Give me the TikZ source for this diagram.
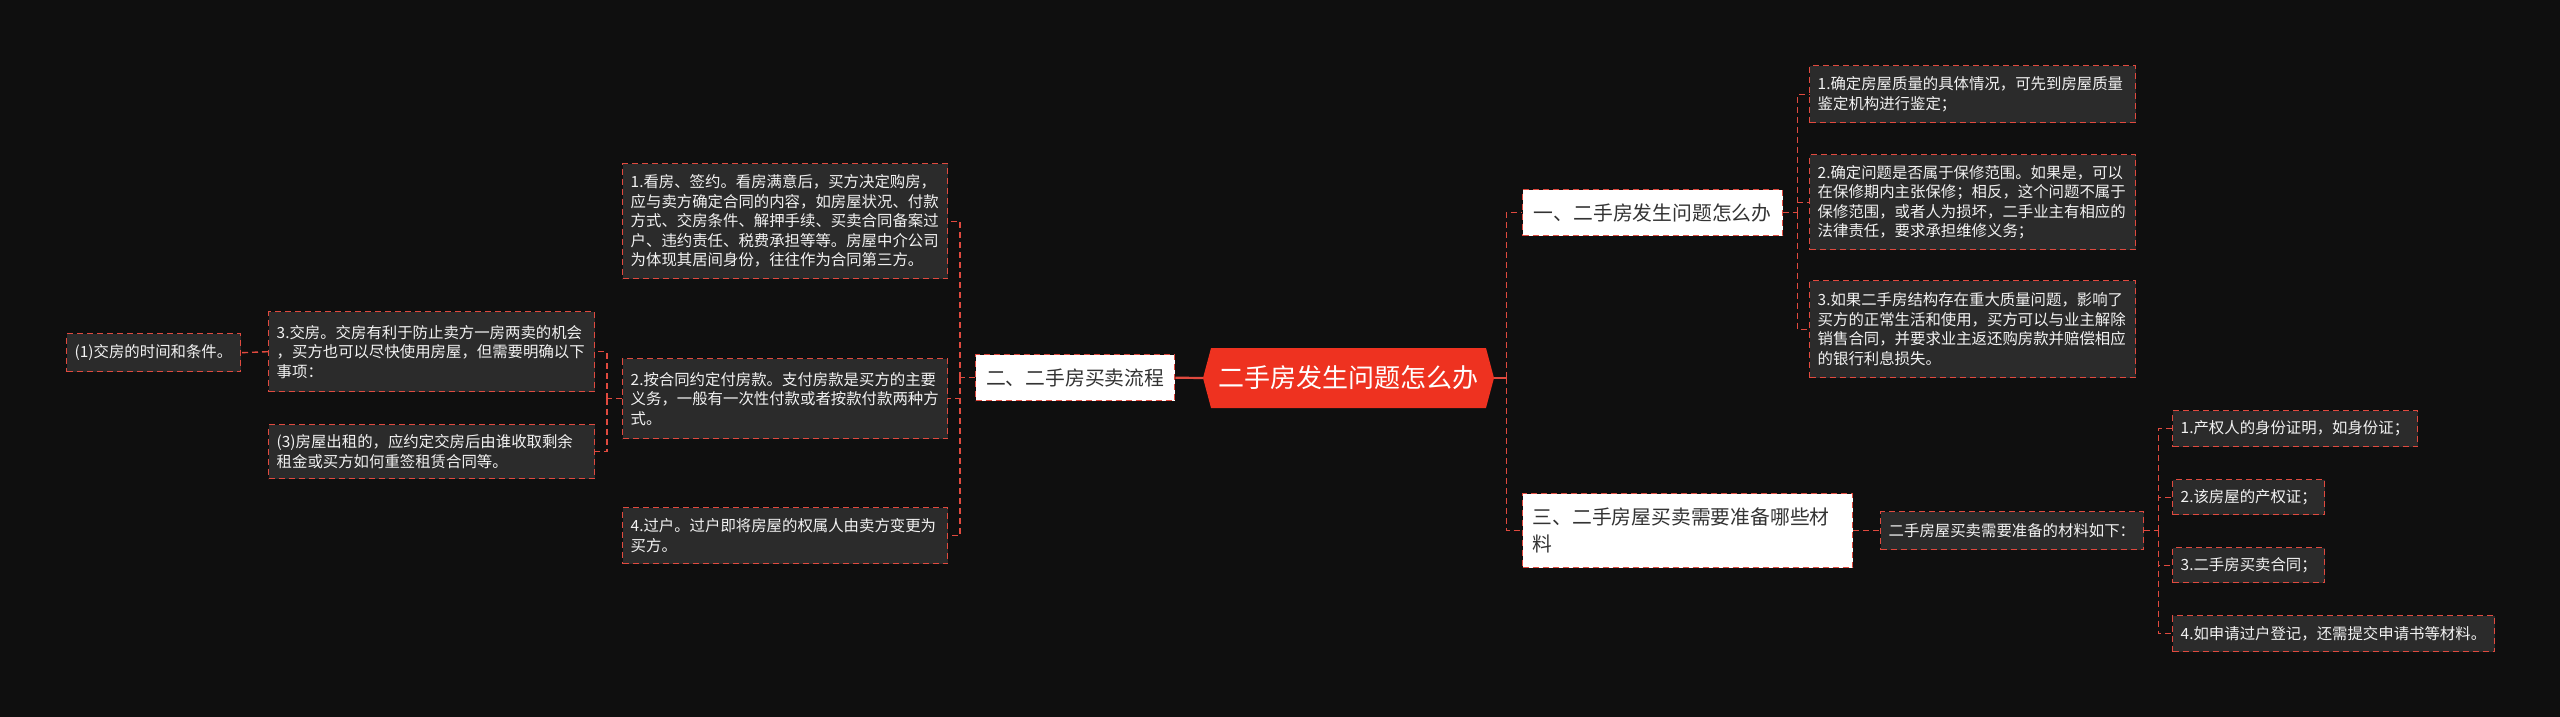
\documentclass[tikz,border=0pt]{standalone}
\usepackage{fontspec}
\newfontfamily\cjk{Noto Sans CJK SC}
\usetikzlibrary{shapes.symbols}
\definecolor{bgc}{HTML}{0F0F0F}
\definecolor{leaff}{HTML}{2B2B2B}
\definecolor{redl}{HTML}{E04A3F}
\definecolor{rootf}{HTML}{EE3220}
\definecolor{darkt}{HTML}{333333}
\definecolor{leaft}{HTML}{F2F2F2}
\tikzset{
  leaf/.style={draw=redl, fill=leaff, dash pattern=on 6pt off 4pt, line width=1.4pt,
    text=leaft, font=\cjk\fontsize{15.4pt}{19.5pt}\selectfont, align=left,
    inner xsep=8pt, inner ysep=0pt, anchor=north west},
  topic/.style={draw=redl, fill=white, dash pattern=on 6pt off 4pt, line width=1.4pt,
    text=darkt, font=\cjk\fontsize{19.8pt}{27pt}\selectfont,
    inner sep=0pt, anchor=north west},
  conn/.style={draw=redl, dash pattern=on 6pt off 4pt, line width=1.4pt},
  rootconn/.style={draw=redl, line width=2.2pt},
}
\begin{document}
\begin{tikzpicture}[x=1pt, y=-1pt]
\fill[bgc] (0,0) rectangle (2560,717);
\useasboundingbox (0,0) rectangle (2560,717);

% root
\node[shape=signal, signal to=west and east, signal pointer angle=150, fill=rootf,
  minimum width=291pt, minimum height=60pt, inner sep=0pt, text=white,
  font=\cjk\fontsize{26pt}{30pt}\selectfont] (root) at (1348.5,378) {二手房发生问题怎么办};

% level 1
\node[topic, minimum width=199pt, minimum height=46pt] (L2) at (975,354) {二、二手房买卖流程};
\node[topic, minimum width=260pt, minimum height=46pt] (R1) at (1522,189) {一、二手房发生问题怎么办};
\node[topic, align=left, inner xsep=10pt, text width=310pt, minimum height=74pt] (R3) at (1522,493) {三、二手房屋买卖需要准备哪些材\\料};

% left leaves
\node[leaf, text width=309pt, minimum height=115pt] (A1) at (622,163)
  {1.看房、签约。看房满意后，买方决定购房，\\应与卖方确定合同的内容，如房屋状况、付款\\方式、交房条件、解押手续、买卖合同备案过\\户、违约责任、税费承担等等。房屋中介公司\\为体现其居间身份，往往作为合同第三方。};
\node[leaf, text width=309pt, minimum height=80pt] (A2) at (622,358)
  {2.按合同约定付房款。支付房款是买方的主要\\义务，一般有一次性付款或者按款付款两种方\\式。};
\node[leaf, text width=309pt, minimum height=56pt] (A4) at (622,507)
  {4.过户。过户即将房屋的权属人由卖方变更为\\买方。};
\node[leaf, text width=310pt, minimum height=80pt] (A3) at (268,311)
  {3.交房。交房有利于防止卖方一房两卖的机会\\，买方也可以尽快使用房屋，但需要明确以下\\事项：};
\node[leaf, text width=310pt, minimum height=54pt] (A3b) at (268,424)
  {(3)房屋出租的，应约定交房后由谁收取剩余\\租金或买方如何重签租赁合同等。};
\node[leaf, text width=158pt, minimum height=38pt] (A31) at (66,333)
  {(1)交房的时间和条件。};

% right leaves
\node[leaf, text width=310pt, minimum height=57pt] (B1) at (1809,65)
  {1.确定房屋质量的具体情况，可先到房屋质量\\鉴定机构进行鉴定；};
\node[leaf, text width=310pt, minimum height=95pt] (B2) at (1809,154)
  {2.确定问题是否属于保修范围。如果是，可以\\在保修期内主张保修；相反，这个问题不属于\\保修范围，或者人为损坏，二手业主有相应的\\法律责任，要求承担维修义务；};
\node[leaf, text width=310pt, minimum height=97pt] (B3) at (1809,280)
  {3.如果二手房结构存在重大质量问题，影响了\\买方的正常生活和使用，买方可以与业主解除\\销售合同，并要求业主返还购房款并赔偿相应\\的银行利息损失。};

\node[leaf, text width=247pt, minimum height=38pt] (C0) at (1880,511)
  {二手房屋买卖需要准备的材料如下：};
\node[leaf, text width=229pt, minimum height=36pt] (C1) at (2172,410)
  {1.产权人的身份证明，如身份证；};
\node[leaf, text width=136pt, minimum height=35pt] (C2) at (2172,479)
  {2.该房屋的产权证；};
\node[leaf, text width=136pt, minimum height=35pt] (C3) at (2172,547)
  {3.二手房买卖合同；};
\node[leaf, text width=306pt, minimum height=36pt] (C4) at (2172,615)
  {4.如申请过户登记，还需提交申请书等材料。};

% connectors
\draw[rootconn] (root.west) -- (L2.east);
\draw[rootconn] (root.east) -- ++(12,0) coordinate (sR);
\draw[conn] (sR) |- (R1.west);
\draw[conn] (sR) |- (R3.west);

\draw[conn] (L2.west) -- ++(-15,0) coordinate (sL);
\draw[conn] (sL) |- (A1.east);
\draw[conn] (sL) |- (A2.east);
\draw[conn] (sL) |- (A4.east);

\draw[conn] (A2.west) -- ++(-15,0) coordinate (sA2);
\draw[conn] (sA2) |- (A3.east);
\draw[conn] (sA2) |- (A3b.east);

\draw[conn] (A3.west) -- (A31.east);

\draw[conn] (R1.east) -- ++(14,0) coordinate (sR1);
\draw[conn] (sR1) |- (B1.west);
\draw[conn] (sR1) |- (B2.west);
\draw[conn] (sR1) |- (B3.west);

\draw[conn] (R3.east) -- (C0.west);
\draw[conn] (C0.east) -- ++(14,0) coordinate (sC0);
\draw[conn] (sC0) |- (C1.west);
\draw[conn] (sC0) |- (C2.west);
\draw[conn] (sC0) |- (C3.west);
\draw[conn] (sC0) |- (C4.west);
\end{tikzpicture}
\end{document}
